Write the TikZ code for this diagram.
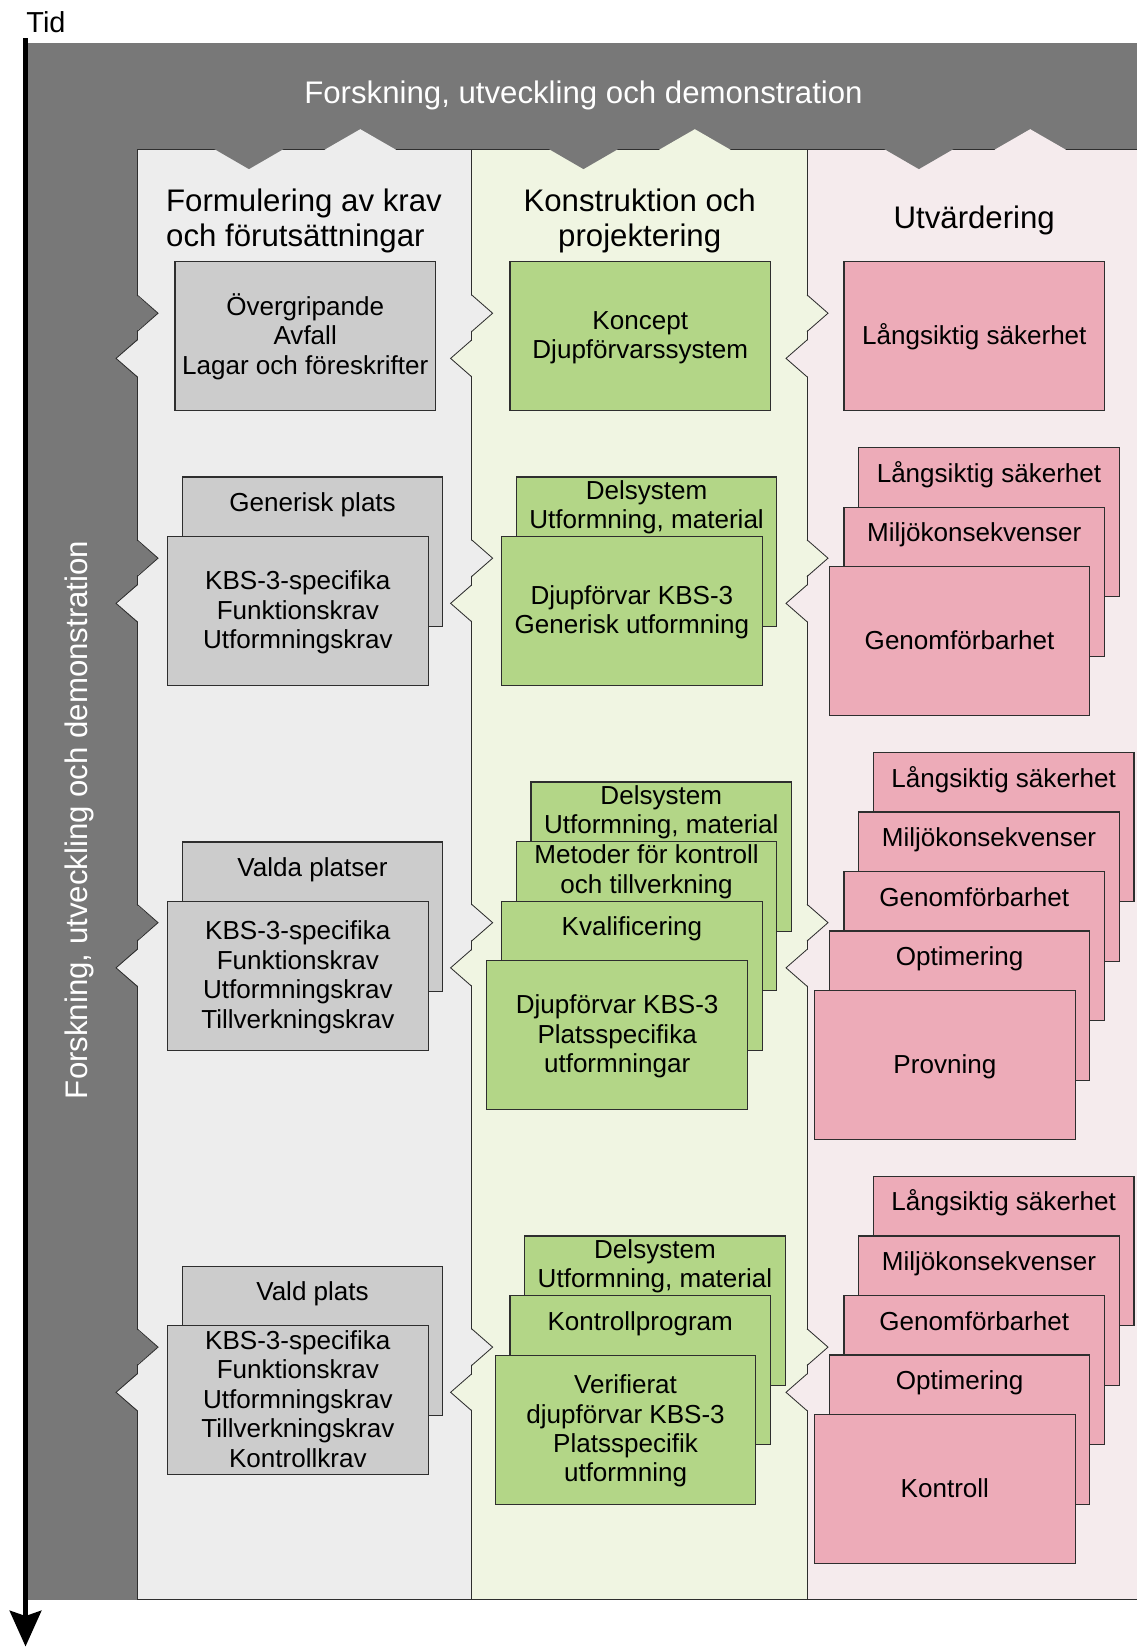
\documentclass[tikz,border=0pt]{standalone}
\usepackage{fontspec}
\setmainfont{Liberation Sans}
\usetikzlibrary{arrows.meta}

\definecolor{bandgray}{HTML}{787878}
\definecolor{colgray}{HTML}{EDEDED}
\definecolor{colgreen}{HTML}{F0F5E2}
\definecolor{colpink}{HTML}{F5EBED}
\definecolor{boxgray}{HTML}{CCCCCC}
\definecolor{boxgreen}{HTML}{B3D687}
\definecolor{boxpink}{HTML}{EDABB8}
\definecolor{edge}{HTML}{2E2E2E}

\newcommand\boxfont{\fontsize{24.8}{28}\selectfont}
\newcommand\headfont{\fontsize{29.7}{33}\selectfont}
\newcommand\lines[1]{\begin{tabular}[t]{@{}c@{}}#1\end{tabular}}
% centred box text, set a little lower than the geometric centre
\newcommand\flines[1]{\raisebox{-2pt}[\height][\depth]{\begin{tabular}[t]{@{}c@{}}#1\end{tabular}}}
\newcommand\leftlines[1]{\begin{tabular}[t]{@{}l@{}}#1\end{tabular}}

% a box further back in a stack: its caption sits near the top edge
\newcommand\backbox[6]{%
  \node[#2] (#1) at (#3,#4) {};
  \node[boxlabel] (#1-label) at ([yshift=-#5pt]#1.north) {\lines{#6}};
}

\tikzset{
  box/.style={draw=edge, line width=1.1pt, anchor=north west,
    minimum width=248pt, minimum height=142pt, inner sep=0pt, font=\boxfont},
  graybox/.style={box, fill=boxgray},
  greenbox/.style={box, fill=boxgreen},
  pinkbox/.style={box, fill=boxpink},
  boxlabel/.style={anchor=base, inner sep=0pt, font=\boxfont},
  colframe/.style={draw=edge, line width=0.9pt},
  notchline/.style={draw=edge, line width=0.8pt},
  heading/.style={inner sep=0pt, font=\headfont},
}

\begin{document}
\begin{tikzpicture}[x=1pt, y=-1pt]
\useasboundingbox (0,0) rectangle (1082,1568);

% research band behind the three columns
\fill[bandgray] (24,40.6) rectangle (1100,1523);

% the three columns
\draw[colframe, fill=colgray]  (130.5,142) rectangle (449,1523);
\draw[colframe, fill=colgreen] (449,142) rectangle (768.3,1523);
\draw[colframe, fill=colpink]  (768.3,142) rectangle (1100,1523);

% notches along the top edge of each column
\foreach \xo/\cc in {130.5/colgray, 449/colgreen, 768.3/colpink} {
  \fill[bandgray] (\xo+72.5,141.3) -- (\xo+106.5,161) -- (\xo+140.5,141.3) -- cycle;
  \fill[\cc] (\xo+178.5,142.6) -- (\xo+212.5,123) -- (\xo+246.5,142.6) -- cycle;
}

% notches between neighbouring columns, one pair per stage
\foreach \yr in {298.2, 531.4, 878.4, 1282.5} {
  \foreach \xo/\lc/\rc in {130.5/bandgray/colgray, 449/colgray/colgreen, 768.3/colgreen/colpink} {
    \fill[\lc] (\xo-1,\yr-17.5) -- (\xo+20,\yr) -- (\xo-1,\yr+17.5) -- cycle;
    \draw[notchline] (\xo,\yr-17.5) -- (\xo+20,\yr) -- (\xo,\yr+17.5);
    \fill[\rc] (\xo+1,\yr+25.5) -- (\xo-20,\yr+43) -- (\xo+1,\yr+60.5) -- cycle;
    \draw[notchline] (\xo,\yr+25.5) -- (\xo-20,\yr+43) -- (\xo,\yr+60.5);
  }
}

% time axis
\coordinate (tidtop) at (24.3,36.5);
\coordinate (tidend) at (24.3,1567.5);
\draw[line width=4.7pt, -{Stealth[length=34pt, width=30pt, inset=5pt]}] (tidtop) -- (tidend);
\node[anchor=base west, inner sep=0pt, font=\fontsize{27.5}{30}\selectfont] (tid) at (25,31.4) {Tid};

% band titles
\node[heading, anchor=base, text=white] (fudtop) at (555.5,99) {Forskning, utveckling och demonstration};
\node[heading, anchor=base, text=white, rotate=90] (fudside) at (83.5,780.5) {Forskning, utveckling och demonstration};

% column headings
\node[heading, anchor=base west] (h1) at (158,201.5) {\leftlines{Formulering av krav\\och förutsättningar}};
\node[heading, anchor=base] (h2) at (609,201.5) {\lines{Konstruktion och\\projektering}};
\node[heading, anchor=base] (h3) at (927.5,217.3) {\lines{Utvärdering}};

% stage 1
\node[graybox] (req1) at (166,248.5) {\flines{Övergripande\\Avfall\\Lagar och föreskrifter}};
\node[greenbox] (des1) at (485,248.5) {\flines{Koncept\\Djupförvarssystem}};
\node[pinkbox] (ev1) at (803,248.5) {\flines{Långsiktig säkerhet}};

% stage 2
\backbox{req2a}{graybox}{173}{453.6}{33.4}{Generisk plats}
\node[graybox] (req2b) at (159,510.2) {\flines{KBS-3-specifika\\Funktionskrav\\Utformningskrav}};
\backbox{des2a}{greenbox}{491}{453.6}{22}{Delsystem\\Utformning, material}
\node[greenbox] (des2b) at (477,510.2) {\flines{Djupförvar KBS-3\\Generisk utformning}};
\backbox{ev2a}{pinkbox}{817}{425.7}{33.4}{Långsiktig säkerhet}
\backbox{ev2b}{pinkbox}{803}{482.3}{33.4}{Miljökonsekvenser}
\node[pinkbox] (ev2c) at (789,538.9) {\flines{Genomförbarhet}};

% stage 3
\backbox{req3a}{graybox}{173}{801}{33.4}{Valda platser}
\node[graybox] (req3b) at (159,857.6) {\flines{KBS-3-specifika\\Funktionskrav\\Utformningskrav\\Tillverkningskrav}};
\backbox{des3a}{greenbox}{505}{743.9}{22}{Delsystem\\Utformning, material}
\backbox{des3b}{greenbox}{491}{800.5}{22}{Metoder för kontroll\\och tillverkning}
\backbox{des3c}{greenbox}{477}{857.3}{33.4}{Kvalificering}
\node[greenbox] (des3d) at (463,914.1) {\flines{Djupförvar KBS-3\\Platsspecifika\\utformningar}};
\backbox{ev3a}{pinkbox}{831}{716}{33.4}{Långsiktig säkerhet}
\backbox{ev3b}{pinkbox}{817}{772.5}{33.4}{Miljökonsekvenser}
\backbox{ev3c}{pinkbox}{803}{829.2}{33.4}{Genomförbarhet}
\backbox{ev3d}{pinkbox}{789}{885.8}{33.4}{Optimering}
\node[pinkbox] (ev3e) at (775,942.4) {\flines{Provning}};

% stage 4
\backbox{req4a}{graybox}{173}{1205}{33.4}{Vald plats}
\node[graybox] (req4b) at (159,1261.6) {\flines{KBS-3-specifika\\Funktionskrav\\Utformningskrav\\Tillverkningskrav\\Kontrollkrav}};
\backbox{des4a}{greenbox}{499}{1176.2}{22}{Delsystem\\Utformning, material}
\backbox{des4b}{greenbox}{485}{1233}{33.4}{Kontrollprogram}
\node[greenbox] (des4c) at (471,1289.6) {\flines{Verifierat\\djupförvar KBS-3\\Platsspecifik\\utformning}};
\backbox{ev4a}{pinkbox}{831}{1119.4}{33.4}{Långsiktig säkerhet}
\backbox{ev4b}{pinkbox}{817}{1176.2}{33.4}{Miljökonsekvenser}
\backbox{ev4c}{pinkbox}{803}{1232.8}{33.4}{Genomförbarhet}
\backbox{ev4d}{pinkbox}{789}{1289.5}{33.4}{Optimering}
\node[pinkbox] (ev4e) at (775,1346.2) {\flines{Kontroll}};

\end{tikzpicture}
\end{document}
